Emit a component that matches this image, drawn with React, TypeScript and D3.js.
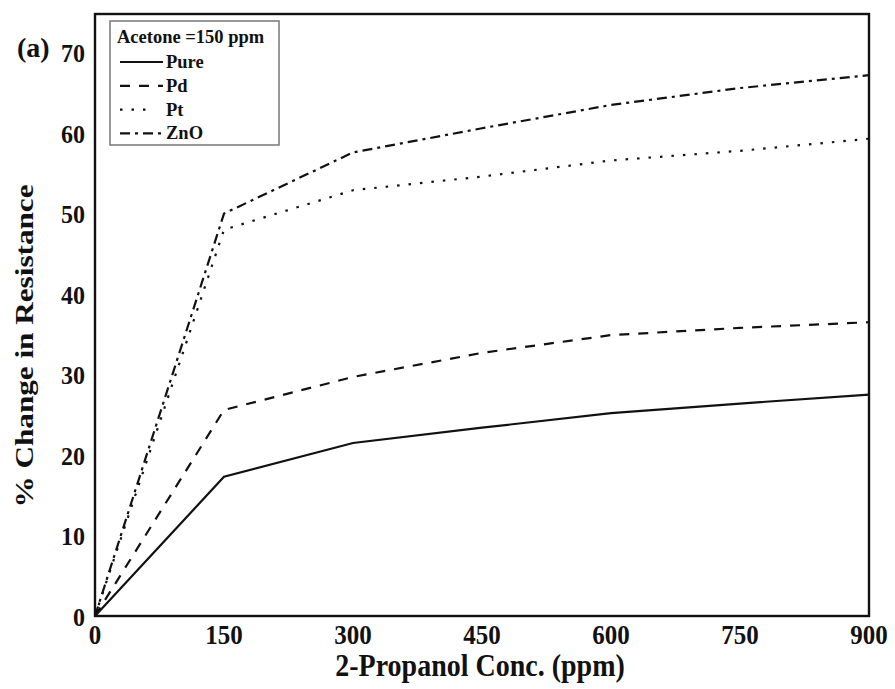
import * as d3 from "d3";
import React from "react";

const concentrations = [0, 150, 300, 450, 600, 750, 900];
const pureValues = [0, 17.3, 21.5, 23.4, 25.2, 26.4, 27.5];
const pdValues = [0, 25.6, 29.7, 32.7, 34.9, 35.8, 36.5];
const ptValues = [0, 48.0, 52.9, 54.6, 56.6, 57.8, 59.3];
const znoValues = [0, 50.0, 57.6, 60.6, 63.5, 65.6, 67.2];
const xTickValues = [0, 150, 300, 450, 600, 750, 900];
const yTickValues = [0, 10, 20, 30, 40, 50, 60, 70];

const seriesNames = ["Pure", "Pd", "Pt", "ZnO"];
const dashes = ["", "10 9", "2.5 9", "10 5 3 5"];

export default function App() {
  const width = 895;
  const height = 689;
  const margin = { left: 95, right: 26, top: 14, bottom: 73 };
  const plotW = width - margin.left - margin.right;
  const plotH = height - margin.top - margin.bottom;

  const x = d3.scaleLinear().domain([0, 900]).range([0, plotW]);
  const y = d3.scaleLinear().domain([0, 74.8]).range([plotH, 0]);

  const line = d3
    .line<number>()
    .x((_, i) => x(concentrations[i]))
    .y((d) => y(d));

  const allSeries = [pureValues, pdValues, ptValues, znoValues];
  const font = "'Liberation Serif', 'Times New Roman', serif";

  return (
    <svg
      width={width}
      height={height}
      style={{ position: "absolute", left: 0, top: 0, background: "#fff" }}
      fontFamily={font}
      fontWeight="bold"
    >
      <g transform={`translate(${margin.left},${margin.top})`}>
        {allSeries.map((vals, i) => (
          <path
            key={i}
            d={line(vals) ?? ""}
            fill="none"
            stroke="#111"
            strokeWidth={2.2}
            strokeDasharray={dashes[i]}
          />
        ))}
        <rect
          x={0}
          y={0}
          width={plotW}
          height={plotH}
          fill="none"
          stroke="#111"
          strokeWidth={2.4}
        />
        {xTickValues.map((t) => (
          <text
            key={t}
            transform={`translate(${x(t)},${plotH + 19}) scale(1,1.12)`}
            textAnchor="middle"
            dominantBaseline="central"
            fontSize="25"
            fill="#111"
          >
            {t}
          </text>
        ))}
        {yTickValues.map((t) => (
          <text
            key={t}
            transform={`translate(-10,${y(t) + 1}) scale(1,1.08)`}
            textAnchor="end"
            dominantBaseline="central"
            fontSize="24"
            fill="#111"
          >
            {t}
          </text>
        ))}
        <text
          transform={`translate(${385},${676 - margin.top}) scale(1,1.12)`}
          textAnchor="middle"
          fontSize="28"
          fill="#111"
        >
          2-Propanol Conc. (ppm)
        </text>
        <text
          transform={`translate(${24 - margin.left},${346 - margin.top}) rotate(-90) scale(1.2,1)`}
          textAnchor="middle"
          dominantBaseline="central"
          fontSize="26"
          fill="#111"
        >
          % Change in Resistance
        </text>
        <text
          x={17 - margin.left}
          y={47 - margin.top}
          dominantBaseline="central"
          fontSize="28"
          fill="#111"
        >
          (a)
        </text>

        <g transform="translate(15,7)">
          <rect
            x={0}
            y={0}
            width={169}
            height={124}
            fill="#fff"
            stroke="#777"
            strokeWidth={1.5}
          />
          <text x={7} y={16} dominantBaseline="central" fontSize="18.5" fill="#111">
            Acetone =150 ppm
          </text>
          {seriesNames.map((name, i) => (
            <g key={name} transform={`translate(0,${41 + i * 23.8})`}>
              <line
                x1={10}
                x2={i === 2 ? 44 : 53}
                y1={0}
                y2={0}
                stroke="#111"
                strokeWidth={2.2}
                strokeDasharray={dashes[i]}
              />
              <text
                x={56}
                y={0}
                dominantBaseline="central"
                fontSize="18.5"
                fill="#111"
              >
                {name}
              </text>
            </g>
          ))}
        </g>
      </g>
    </svg>
  );
}
